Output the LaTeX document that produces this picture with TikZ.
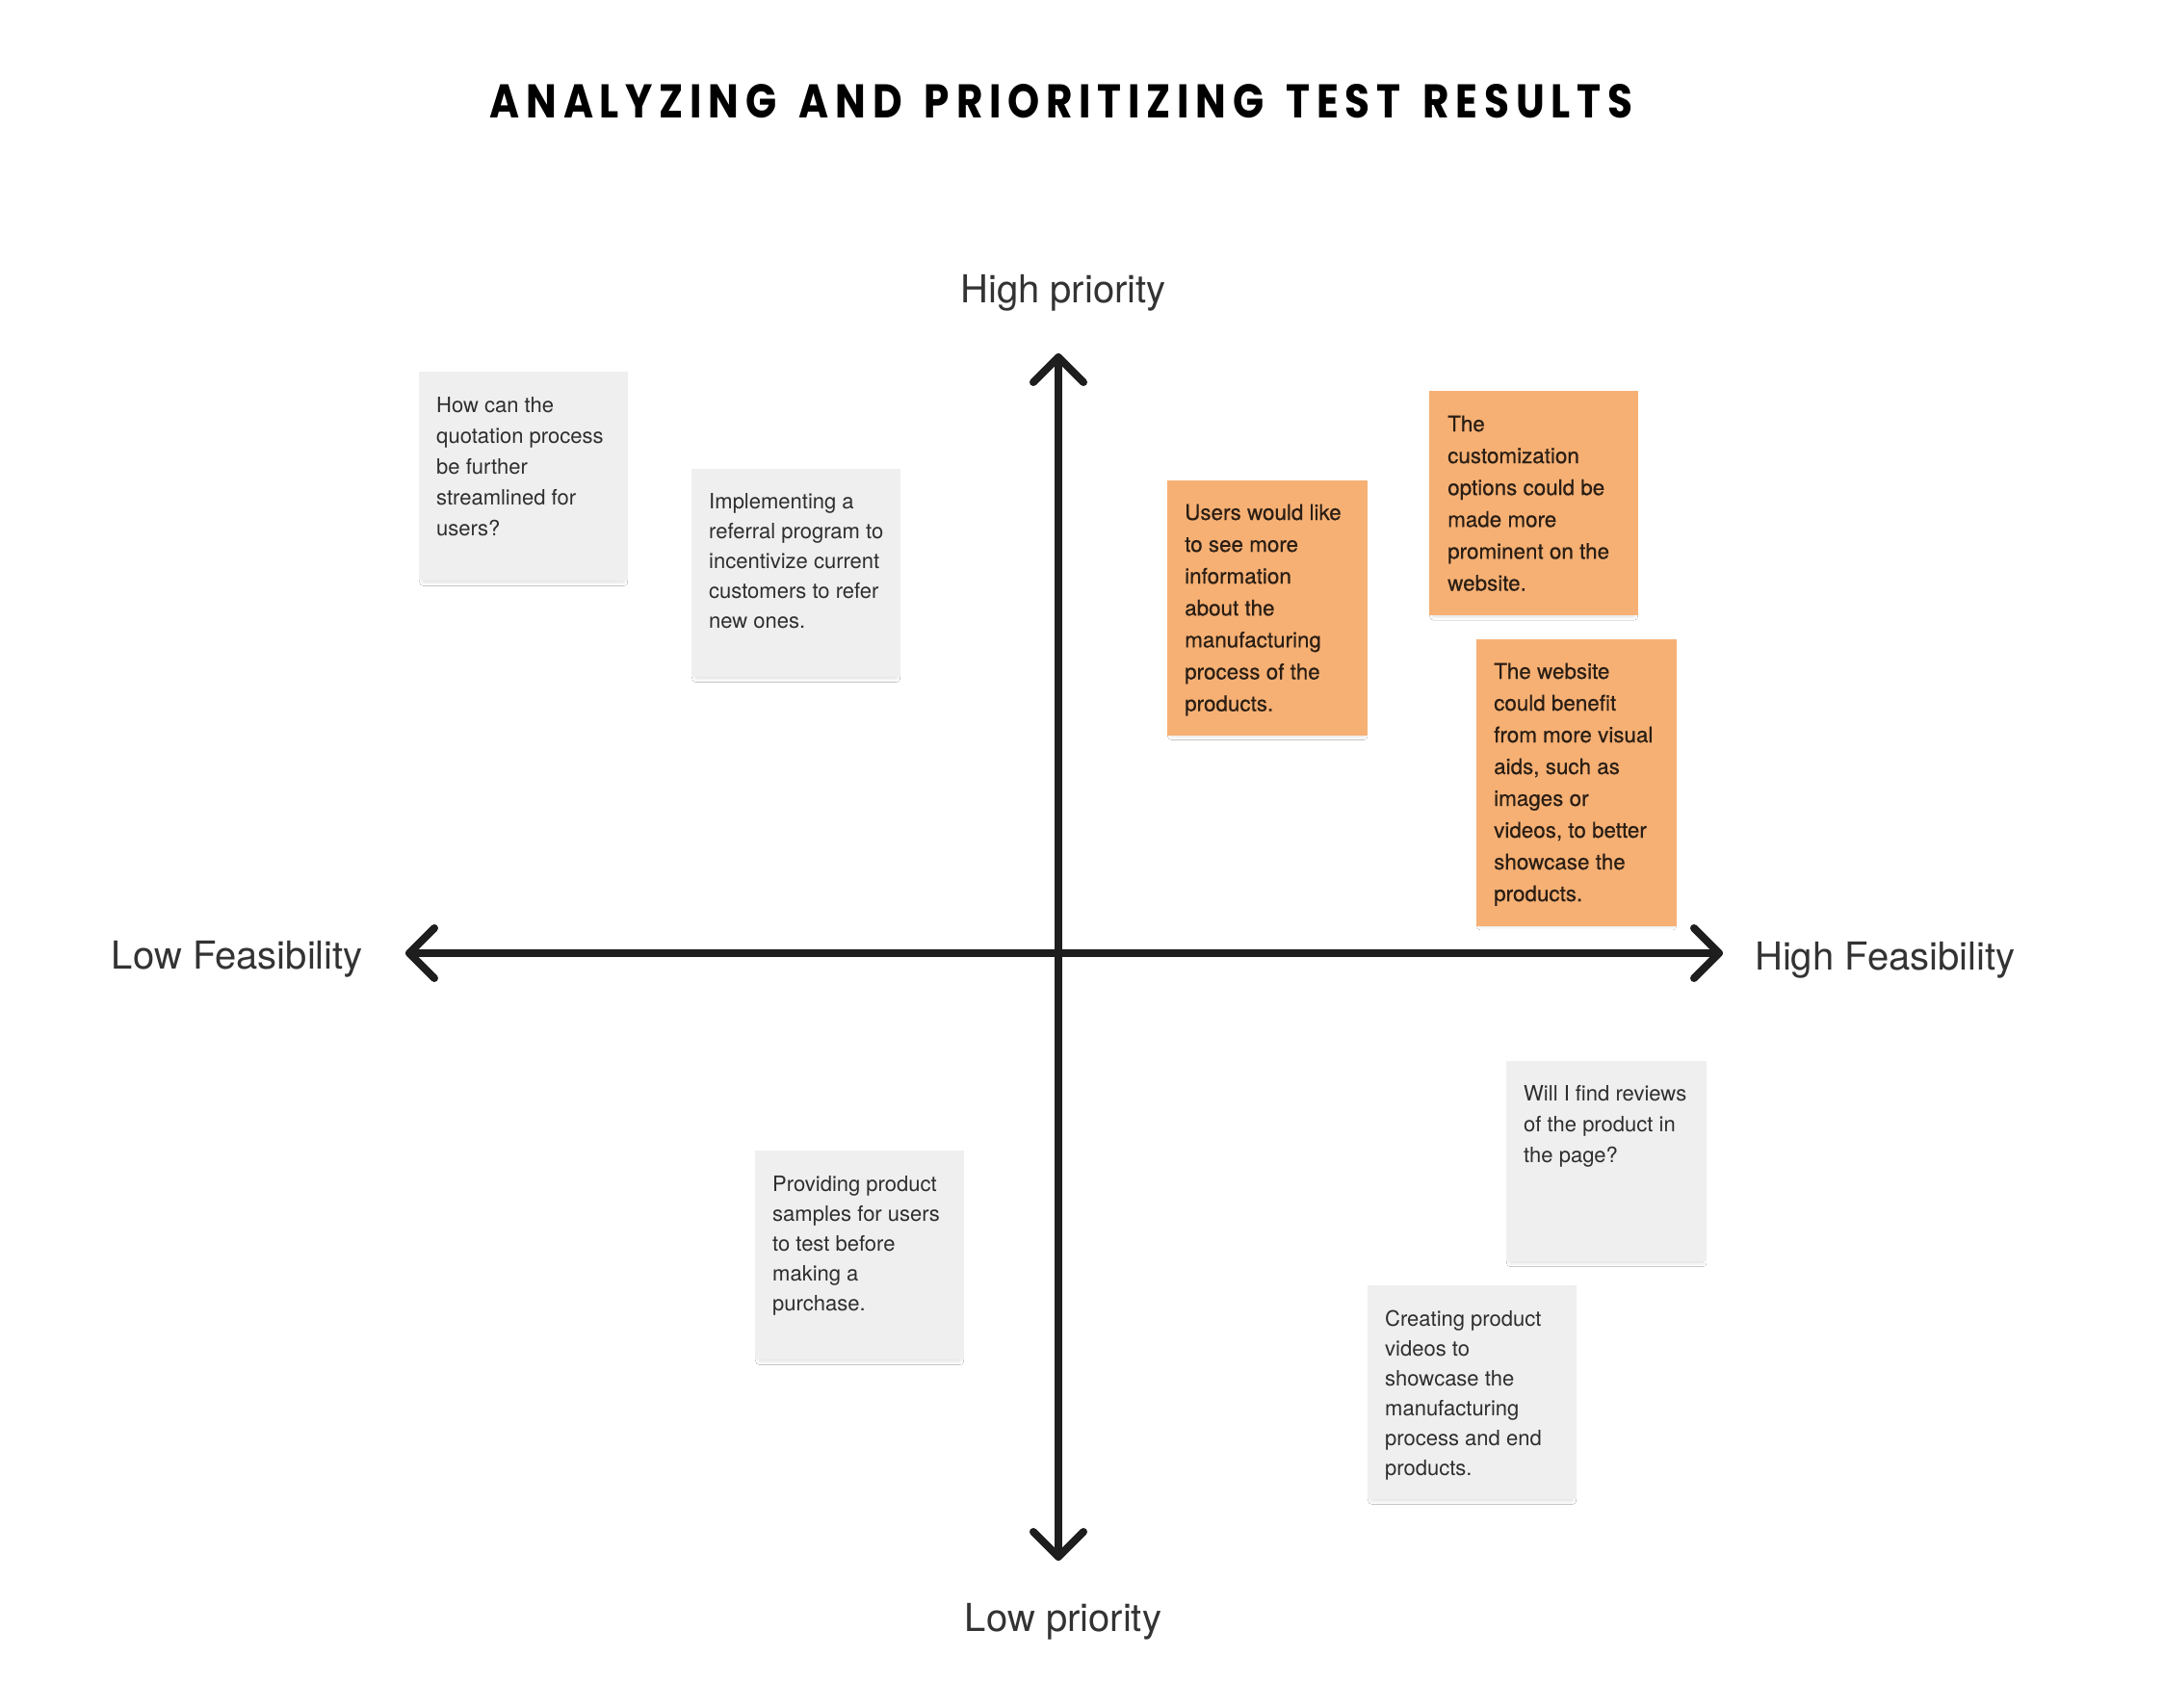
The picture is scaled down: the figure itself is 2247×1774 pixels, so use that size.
\documentclass[tikz,border=0pt]{standalone}
\usepackage{fontspec}
\usepackage{graphicx}
\setmainfont{TeX Gyre Heros}
\newfontfamily\notefont{TeX Gyre Heros}
\newfontfamily\orangefont{TeX Gyre Heros}[FakeBold=0.4]
\newfontfamily\titlefont{Poppins}[LetterSpace=16]
\usetikzlibrary{shadows.blur,calc}
\definecolor{axiscol}{HTML}{1E1E1E}
\definecolor{labelcol}{HTML}{333333}
\definecolor{graynote}{HTML}{EFEFEF}
\definecolor{orangenote}{HTML}{F6B074}
\definecolor{graytext}{HTML}{2E2E2E}
\definecolor{orangetext}{HTML}{2A1E14}
\newcommand\stickytext[1]{\parbox[t]{260pt}{\raggedright #1}}
\newcommand\tgap{\hspace{0.55em}}
\tikzset{
  notebase/.style={rectangle, draw=none, anchor=north west, inner sep=0pt,
    blur shadow={shadow xshift=0pt, shadow yshift=-6pt, shadow scale=0.96,
      shadow blur radius=4pt, shadow blur steps=8, shadow opacity=14}},
  gnote/.style={notebase, fill=graynote},
  onote/.style={notebase, fill=orangenote},
  gtext/.style={anchor=base west, inner sep=0pt, text=graytext,
    font=\notefont\fontsize{22}{#1}\selectfont},
  otext/.style={anchor=base west, inner sep=0pt, text=orangetext,
    font=\orangefont\fontsize{22.4}{#1}\selectfont},
  axisline/.style={draw=axiscol, line width=8pt, line cap=round, line join=round},
  axislabel/.style={inner sep=0pt, text=labelcol, font=\fontsize{40}{48}\selectfont},
  titlestyle/.style={inner sep=0pt, text=black, font=\titlefont\bfseries}
}
\begin{document}
\begin{tikzpicture}[x=1pt,y=-1pt]
\fill[white] (0,0) rectangle (2247,1774);
\useasboundingbox (0,0) rectangle (2247,1774);

% title
\node[titlestyle] (title) at (1102,105) {\resizebox{1186pt}{35pt}{ANALYZING\tgap AND\tgap PRIORITIZING\tgap TEST\tgap RESULTS}};

% axes
\coordinate (vtop) at (1099,371);
\coordinate (vbot) at (1099,1617);
\coordinate (hl) at (425,990);
\coordinate (hr) at (1785,990);
\draw[axisline] (vbot) -- (vtop);
\draw[axisline] (hl) -- (hr);
\draw[axisline] ($(vtop)+(-26,26)$) -- (vtop) -- ($(vtop)+(26,26)$);
\draw[axisline] ($(vbot)+(-26,-26)$) -- (vbot) -- ($(vbot)+(26,-26)$);
\draw[axisline] ($(hl)+(26,-26)$) -- (hl) -- ($(hl)+(26,26)$);
\draw[axisline] ($(hr)+(-26,-26)$) -- (hr) -- ($(hr)+(-26,26)$);

% axis labels
\node[axislabel, anchor=base] (hp) at (1104,314) {High priority};
\node[axislabel, anchor=base] (lp) at (1104,1694) {Low priority};
\node[axislabel, anchor=base east] (lf) at (377,1006) {Low Feasibility};
\node[axislabel, anchor=base west] (hf) at (1822,1007) {High Feasibility};

% gray notes
\node[gnote, minimum width=217pt, minimum height=217pt] (n1) at (435,386) {};
\node[gtext=32] (n1t) at ($(n1.north west)+(18,42)$) {\stickytext{How can the\\quotation process\\be further\\streamlined for\\users?}};

\node[gnote, minimum width=217pt, minimum height=216pt] (n2) at (718,487) {};
\node[gtext=31.2] (n2t) at ($(n2.north west)+(18,41)$) {\stickytext{Implementing a\\referral program to\\incentivize current\\customers to refer\\new ones.}};

\node[gnote, minimum width=217pt, minimum height=217pt] (n3) at (784,1195) {};
\node[gtext=31.2] (n3t) at ($(n3.north west)+(18,42)$) {\stickytext{Providing product\\samples for users\\to test before\\making a\\purchase.}};

\node[gnote, minimum width=208pt, minimum height=208pt] (n4) at (1564,1102) {};
\node[gtext=32] (n4t) at ($(n4.north west)+(18,41)$) {\stickytext{Will I find reviews\\of the product in\\the page?}};

\node[gnote, minimum width=217pt, minimum height=222pt] (n5) at (1420,1335) {};
\node[gtext=31.1] (n5t) at ($(n5.north west)+(18,42)$) {\stickytext{Creating product\\videos to\\showcase the\\manufacturing\\process and end\\products.}};

% orange notes
\node[onote, minimum width=208pt, minimum height=265pt] (o1) at (1212,499) {};
\node[otext=33.1] (o1t) at ($(o1.north west)+(18,41)$) {\stickytext{Users would like\\to see more\\information\\about the\\manufacturing\\process of the\\products.}};

\node[onote, minimum width=217pt, minimum height=233pt] (o2) at (1484,406) {};
\node[otext=33.1] (o2t) at ($(o2.north west)+(19,42)$) {\stickytext{The\\customization\\options could be\\made more\\prominent on the\\website.}};

\node[onote, minimum width=208pt, minimum height=298pt] (o3) at (1533,664) {};
\node[otext=33] (o3t) at ($(o3.north west)+(18,41)$) {\stickytext{The website\\could benefit\\from more visual\\aids, such as\\images or\\videos, to better\\showcase the\\products.}};
\end{tikzpicture}
\end{document}
